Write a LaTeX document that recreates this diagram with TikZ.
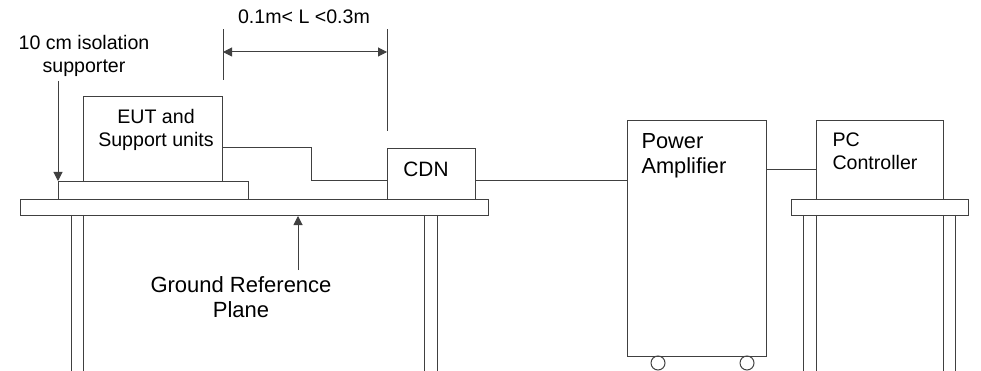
\documentclass[tikz,border=0pt]{standalone}
\usepackage{fontspec}
\setmainfont{Liberation Sans}
\usetikzlibrary{arrows.meta,positioning}
\begin{document}
\begin{tikzpicture}[x=1pt, y=-1pt, >={Triangle[length=9pt,width=9pt]}, line width=1pt,
    box/.style={draw=black!75, anchor=north west, inner sep=0pt},
    txt/.style={inner sep=0pt, align=center, font=\fontsize{19.6}{23.4}\selectfont}]
    \useasboundingbox (0,0) rectangle (981,371);
    % Table with ground reference plane
    \node[box, minimum width=468pt, minimum height=16pt] (grp) at (20,199) {};
    \node[box, minimum width=190pt, minimum height=18pt] (sup) at (58,181) {};
    \node[box, minimum width=139pt, minimum height=85pt] (eut) at (83,96) {};
    \node[box, minimum width=88pt, minimum height=51pt] (cdn) at (387,148) {};
    % Power amplifier and PC desk
    \node[box, minimum width=139pt, minimum height=236pt] (pa) at (627,120) {};
    \node[box, minimum width=127pt, minimum height=79pt] (pc) at (816,120) {};
    \node[box, minimum width=177pt, minimum height=16pt] (desk) at (791,199) {};
    % Legs
    \foreach \x in {71,83,424,437,803,816,943,955}
        \draw[black!75] (\x,215) -- (\x,371);
    % Wheels
    \draw[black!75] (658,363) circle (7);
    \draw[black!75] (747,363) circle (7);
    % Cables
    \draw[black!75] (eut.east |- cdn.north) -| (311,181) -- (cdn.west |- sup.north);
    \draw[black!75] (cdn.east |- sup.north) -- (pa.west |- sup.north);
    \draw[black!75] (pa.east |- 0,170) -- (pc.west |- 0,170);
    % Distance L
    \draw[black!75] (eut.north east) ++(0,-16) -- ++(0,-51);
    \draw[black!75] (cdn.north west) ++(0,-17) -- ++(0,-102);
    \draw[<->, black!75] (eut.east |- 0,52) -- (cdn.west |- 0,52);
    \node[txt, anchor=base] (dimtxt) at (304,23.3) {0.1m< L <0.3m};
    % Labels
    \node[txt] (euttxt) at (156,130) {EUT and\\Support units};
    \node[txt] (isotxt) at (84,56.2) {10 cm isolation\\supporter};
    \node[txt, font=\fontsize{22}{25}\selectfont] (grptxt) at (241,297) {Ground Reference\\Plane};
    \node[txt, anchor=base, font=\fontsize{20.8}{25}\selectfont] (cdntxt) at (426,176.7) {CDN};
    \node[txt, anchor=west, align=left, font=\fontsize{21.8}{25}\selectfont] (patxt) at (641,156) {Power\\Amplifier};
    \node[txt, anchor=west, align=left] (pctxt) at (832,151) {PC\\Controller};
    % Pointers
    \draw[->, black!75] (sup.north west |- 0,81) -- (sup.north west);
    \coordinate (gnd) at (298,270);
    \draw[->, black!75] (gnd) -- (gnd |- grp.south);
\end{tikzpicture}
\end{document}
